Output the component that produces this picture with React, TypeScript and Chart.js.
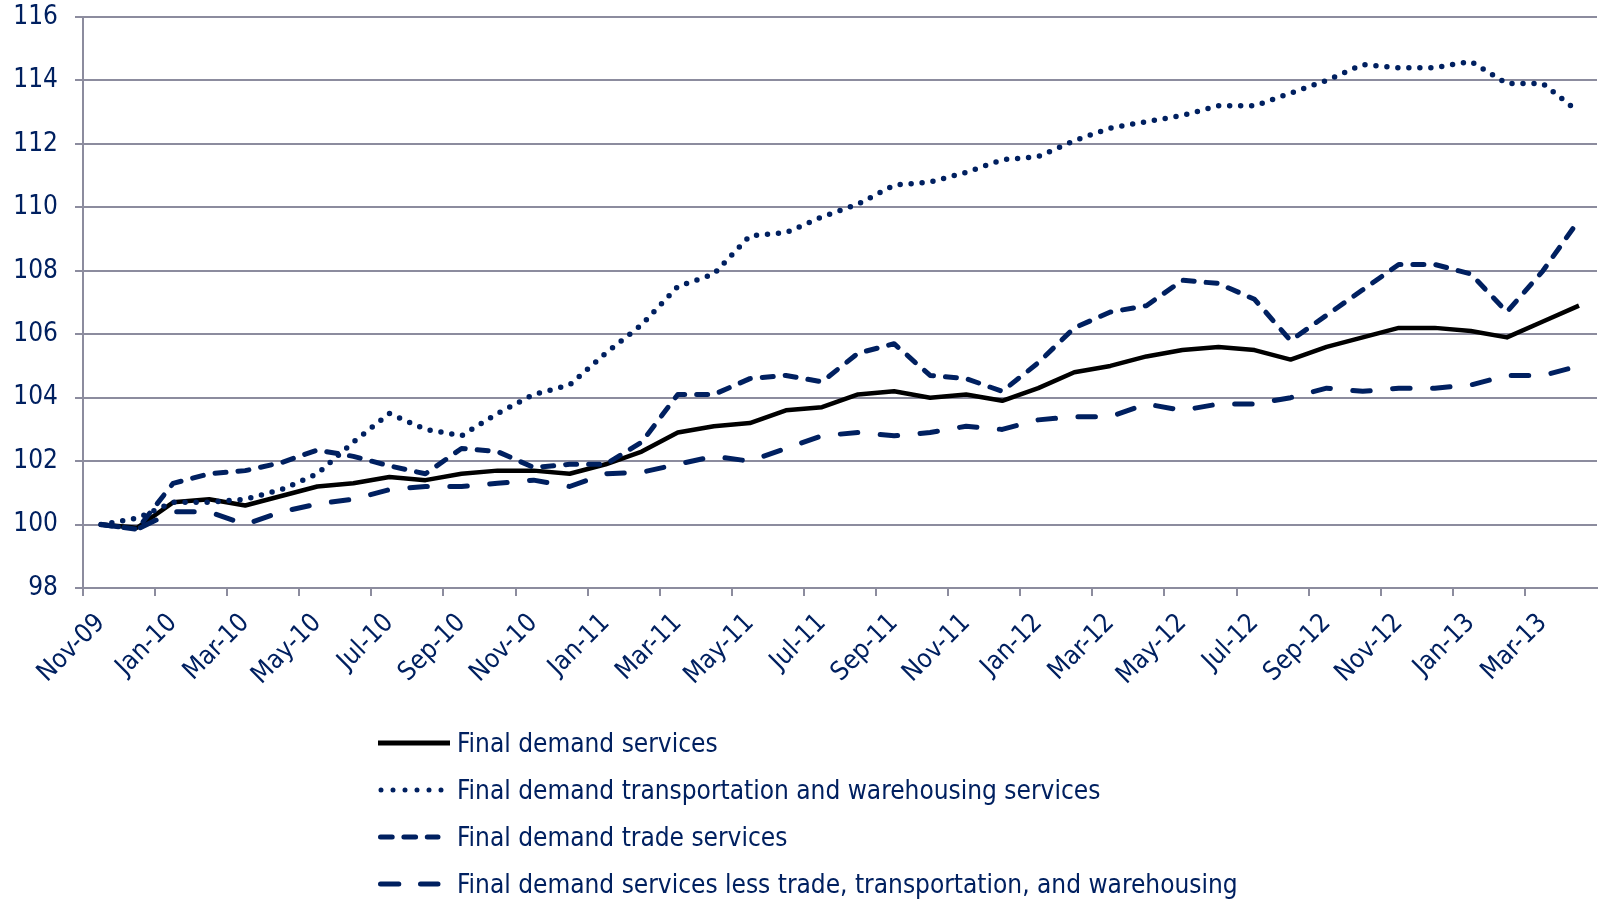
import React, { useEffect, useRef } from "react";
import { Chart, registerables } from "chart.js";

Chart.register(...registerables);

// ---------- data ----------
const months = [
  "Nov-09", "Dec-09", "Jan-10", "Feb-10", "Mar-10", "Apr-10", "May-10", "Jun-10",
  "Jul-10", "Aug-10", "Sep-10", "Oct-10", "Nov-10", "Dec-10", "Jan-11", "Feb-11",
  "Mar-11", "Apr-11", "May-11", "Jun-11", "Jul-11", "Aug-11", "Sep-11", "Oct-11",
  "Nov-11", "Dec-11", "Jan-12", "Feb-12", "Mar-12", "Apr-12", "May-12", "Jun-12",
  "Jul-12", "Aug-12", "Sep-12", "Oct-12", "Nov-12", "Dec-12", "Jan-13", "Feb-13",
  "Mar-13", "Apr-13",
];

const seriesNames = [
  "Final demand services",
  "Final demand transportation and warehousing services",
  "Final demand trade services",
  "Final demand services less trade, transportation, and warehousing",
];

const services = [
  100.0, 99.9, 100.7, 100.8, 100.6, 100.9, 101.2, 101.3, 101.5, 101.4,
  101.6, 101.7, 101.7, 101.6, 101.9, 102.3, 102.9, 103.1, 103.2, 103.6,
  103.7, 104.1, 104.2, 104.0, 104.1, 103.9, 104.3, 104.8, 105.0, 105.3,
  105.5, 105.6, 105.5, 105.2, 105.6, 105.9, 106.2, 106.2, 106.1, 105.9,
  106.4, 106.9,
];

const transportation = [
  100.0, 100.2, 100.7, 100.7, 100.8, 101.1, 101.6, 102.6, 103.5, 103.0,
  102.8, 103.5, 104.1, 104.4, 105.4, 106.3, 107.5, 107.9, 109.1, 109.2,
  109.7, 110.1, 110.7, 110.8, 111.1, 111.5, 111.6, 112.1, 112.5, 112.7,
  112.9, 113.2, 113.2, 113.6, 114.0, 114.5, 114.4, 114.4, 114.6, 113.9,
  113.9, 113.0,
];

const trade = [
  100.0, 99.85, 101.3, 101.6, 101.7, 101.95, 102.35, 102.15, 101.85, 101.6,
  102.4, 102.3, 101.8, 101.9, 101.9, 102.6, 104.1, 104.1, 104.6, 104.7,
  104.5, 105.4, 105.7, 104.7, 104.6, 104.2, 105.1, 106.2, 106.7, 106.9,
  107.7, 107.6, 107.1, 105.8, 106.6, 107.4, 108.2, 108.2, 107.9, 106.7,
  108.0, 109.6,
];

const lessTTW = [
  100.0, 99.85, 100.4, 100.4, 100.0, 100.4, 100.65, 100.8, 101.1, 101.2,
  101.2, 101.3, 101.4, 101.2, 101.6, 101.65, 101.9, 102.15, 102.0, 102.4,
  102.8, 102.9, 102.8, 102.9, 103.1, 103.0, 103.3, 103.4, 103.4, 103.8,
  103.6, 103.8, 103.8, 104.0, 104.3, 104.2, 104.3, 104.3, 104.4, 104.7,
  104.7, 105.0,
];

const yMin = 98;
const yMax = 116;
const yStep = 2;

// ---------- styles ----------
const NAVY = "#002060";
const GRID = "#8c8c9e";
const FONT = "'DejaVu Sans Condensed', 'Liberation Sans', sans-serif";
const FONT_SIZE = 26;

type LegendKind = "solid" | "dot" | "dash" | "longdash";
const legendKinds: LegendKind[] = ["solid", "dot", "dash", "longdash"];

function LegendSample({ kind }: { kind: LegendKind }) {
  let stroke = NAVY;
  let dash: string | undefined;
  let x1 = 2.5;
  let x2 = 69.5;
  let width = 5;
  if (kind === "solid") {
    stroke = "#000";
    x1 = 0;
    x2 = 72;
  } else if (kind === "dot") {
    dash = "0 12";
    x1 = 3;
    x2 = 64;
  } else if (kind === "dash") {
    dash = "11.7 11.7";
    x2 = 60;
  } else {
    dash = "18.3 21.7";
    x2 = 60;
  }
  return (
    <svg width={74} height={12} style={{ display: "block" }}>
      <line
        x1={x1}
        y1={6}
        x2={x2}
        y2={6}
        stroke={stroke}
        strokeWidth={width}
        strokeLinecap={kind === "solid" ? "butt" : "round"}
        strokeDasharray={dash}
      />
    </svg>
  );
}

export default function App() {
  const canvasRef = useRef<HTMLCanvasElement>(null);

  useEffect(() => {
    document.body.style.margin = "0";
    document.body.style.overflow = "hidden";
    const canvas = canvasRef.current;
    if (!canvas) return;

    const chart = new Chart(canvas, {
      type: "line",
      data: {
        labels: months,
        datasets: [
          {
            label: seriesNames[0],
            data: services,
            borderColor: "#000000",
            borderWidth: 4.5,
            pointRadius: 0,
            tension: 0,
            borderJoinStyle: "round",
            order: 4,
          },
          {
            label: seriesNames[1],
            data: transportation,
            borderColor: NAVY,
            borderWidth: 5.5,
            borderDash: [0, 11],
            borderCapStyle: "round",
            pointRadius: 0,
            tension: 0,
            order: 3,
          },
          {
            label: seriesNames[2],
            data: trade,
            borderColor: NAVY,
            borderWidth: 5,
            borderDash: [11, 12],
            borderCapStyle: "round",
            borderJoinStyle: "round",
            pointRadius: 0,
            tension: 0,
            order: 2,
          },
          {
            label: seriesNames[3],
            data: lessTTW,
            borderColor: NAVY,
            borderWidth: 5,
            borderDash: [17.5, 22.5],
            borderCapStyle: "round",
            borderJoinStyle: "round",
            pointRadius: 0,
            tension: 0,
            order: 1,
          },
        ],
      },
      options: {
        responsive: false,
        animation: false,
        events: [],
        layout: { padding: { top: 17, right: 6, bottom: 191, left: 0 } },
        plugins: {
          legend: { display: false },
          tooltip: { enabled: false },
          title: { display: false },
        },
        scales: {
          x: {
            type: "category",
            offset: true,
            grid: {
              offset: true,
              drawOnChartArea: false,
              drawTicks: true,
              tickLength: 8,
              lineWidth: 2,
              color: (c: any) => (c.index % 2 === 0 ? GRID : "rgba(0,0,0,0)"),
            },
            border: { display: true, color: GRID, width: 2 },
            ticks: {
              autoSkip: false,
              maxRotation: 45,
              minRotation: 45,
              padding: 12,
              color: NAVY,
              font: { family: FONT, size: FONT_SIZE },
              callback: (_v: any, i: number) => (i % 2 === 0 ? months[i] : ""),
            },
            afterFit: (s: any) => {
              s.height = 120;
              s.paddingLeft = 0;
              s.paddingRight = 0;
            },
          },
          y: {
            min: yMin,
            max: yMax,
            ticks: {
              stepSize: yStep,
              padding: 17,
              color: NAVY,
              font: { family: FONT, size: FONT_SIZE },
            },
            grid: {
              color: GRID,
              lineWidth: 2,
              drawTicks: true,
              tickLength: 8,
            },
            border: { display: true, color: GRID, width: 2 },
            afterFit: (s: any) => {
              s.width = 83;
              s.paddingTop = 0;
              s.paddingBottom = 0;
            },
          },
        },
      },
    } as any);

    return () => chart.destroy();
  }, []);

  const rowCenters = [743, 790, 837, 884];

  return (
    <div style={{ position: "relative", width: 1603, height: 899, background: "#fff" }}>
      <canvas ref={canvasRef} width={1603} height={899} style={{ display: "block" }} />
      {seriesNames.map((name, i) => (
        <div
          key={name}
          style={{
            position: "absolute",
            left: 378,
            top: rowCenters[i] - 20,
            height: 40,
            display: "flex",
            alignItems: "center",
            whiteSpace: "nowrap",
          }}
        >
          <LegendSample kind={legendKinds[i]} />
          <span
            style={{
              marginLeft: 5,
              fontFamily: FONT,
              fontSize: FONT_SIZE,
              color: NAVY,
              lineHeight: "40px",
            }}
          >
            {name}
          </span>
        </div>
      ))}
    </div>
  );
}
